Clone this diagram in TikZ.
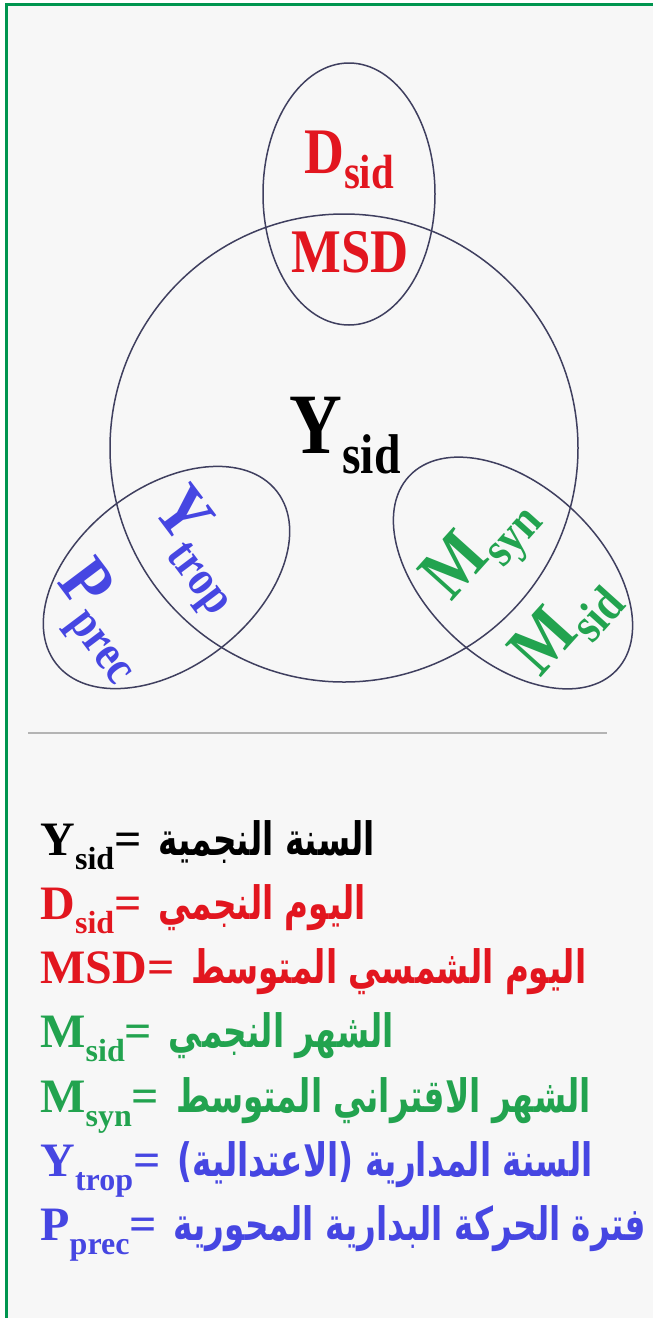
\documentclass[tikz,border=0pt]{standalone}
\usepackage{fontspec}
\setmainfont{Liberation Serif}
\newfontfamily\vennfont{Liberation Serif}[FakeStretch=0.85]
\newfontfamily\arabicfont[Script=Arabic,FakeStretch=0.71]{DejaVu Sans}
\TeXXeTstate=1
\usepackage{tikz}
\definecolor{framegreen}{HTML}{00954F}
\definecolor{paperbg}{HTML}{F7F7F7}
\definecolor{ringgray}{HTML}{3F3F5F}
\definecolor{rulegray}{HTML}{B4B4B4}
\definecolor{keyred}{HTML}{E2161F}
\definecolor{keygreen}{HTML}{22A34F}
\definecolor{keyblue}{HTML}{4646E2}
% lowered subscript: size, drop, text
\newcommand{\lowtxt}[3]{\raisebox{-#2}{\fontsize{#1}{#1}\selectfont #3}}

\begin{document}
\begin{tikzpicture}[
  x=0.5pt,y=-0.5pt,
  ring/.style={draw=ringgray,line width=0.75pt},
  vlabel/.style={inner sep=0pt,font=\vennfont\bfseries},
  keyline/.style={anchor=base west,inner sep=0pt,font=\bfseries\fontsize{24}{24}\selectfont},
  deftext/.style={anchor=base west,inner sep=0pt,font=\arabicfont\bfseries\fontsize{23}{23}\selectfont}
]
\useasboundingbox (0,0) rectangle (653,1318);
\clip (0,0) rectangle (653,1318);
\fill[white] (0,0) rectangle (653,1318);
\fill[paperbg] (6.5,4.5) rectangle (653,1318);
\draw[framegreen,line width=1.75pt] (6.5,1318) |- (653,4.5);

% the rings
\draw[ring] (344,448) circle [radius=234];
\draw[ring] (349,194) ellipse [x radius=86,y radius=131];
\draw[ring,rotate around={38:(166.5,577.5)}] (166.5,577.5) ellipse [x radius=140,y radius=89];
\draw[ring,rotate around={-43:(513,573)}] (513,573) ellipse [x radius=142,y radius=87];

% labels inside the rings
\node[vlabel,text=black] (ysid) at (345,436)
  {\fontsize{43}{43}\selectfont Y\lowtxt{28pt}{10pt}{sid}};
\node[vlabel,text=keyred] (dsid) at (349,160)
  {\fontsize{32.5}{32.5}\selectfont D\lowtxt{24pt}{7.5pt}{sid}};
\node[vlabel,text=keyred,anchor=base] (msd) at (350,272)
  {\fontsize{31}{31}\selectfont MSD};
\node[vlabel,text=keyblue,rotate=-53] (ytrop) at (197,552)
  {\fontsize{37}{37}\selectfont Y\lowtxt{25pt}{8pt}{trop}};
\node[vlabel,text=keyblue,rotate=-53] (pprec) at (101,623)
  {\fontsize{37}{37}\selectfont P\lowtxt{25pt}{8pt}{prec}};
\node[vlabel,text=keygreen,rotate=48] (msyn) at (484,550)
  {\fontsize{37}{37}\selectfont M\lowtxt{25pt}{8pt}{syn}};
\node[vlabel,text=keygreen,rotate=48] (msid) at (566,626)
  {\fontsize{37}{37}\selectfont M\lowtxt{25pt}{8pt}{sid}};

\draw[rulegray,line width=0.75pt] (28,733) -- (607,733);

% key
\foreach \n/\main/\sub/\col/\ar in {
  0/Y/sid/black/السنة النجمية,
  1/D/sid/keyred/اليوم النجمي,
  2/MSD/{}/keyred/اليوم الشمسي المتوسط,
  3/M/sid/keygreen/الشهر النجمي,
  4/M/syn/keygreen/الشهر الاقتراني المتوسط,
  5/Y/trop/keyblue/السنة المدارية (الاعتدالية),
  6/P/prec/keyblue/فترة الحركة البدارية المحورية} {
  \node[keyline,text=\col] (key\n) at (40,{855+64.3*\n})
    {\main\lowtxt{16pt}{7pt}{\sub}=};
  \node[deftext,text=\col] (def\n) at ([xshift=8]key\n.base east)
    {\beginR\ar\endR};
}
\end{tikzpicture}
\end{document}
